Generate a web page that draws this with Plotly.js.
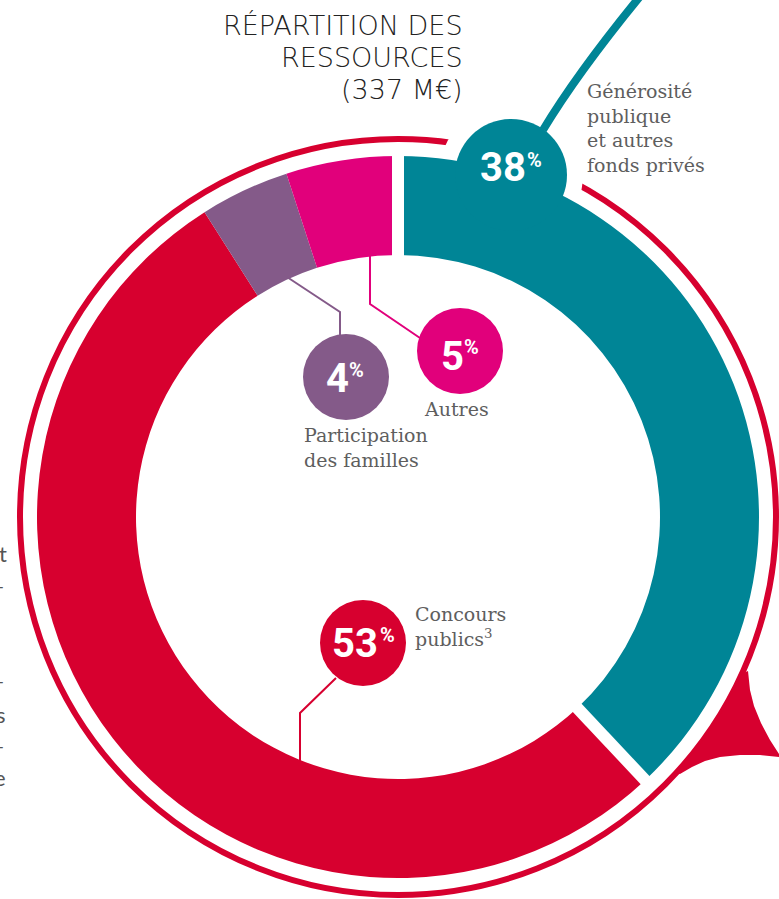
<!DOCTYPE html>
<html>
<head>
<meta charset="utf-8">
<script src="https://cdn.plot.ly/plotly-3.0.1.min.js"></script>
<style>html,body{margin:0;padding:0;background:#fff;}#chart{width:779px;height:899px;}</style>
</head>
<body>
<div id="chart"></div>
<script>
// ---- data ----
const categories = ["Générosité publique et autres fonds privés", "Concours publics", "Participation des familles", "Autres"];
const shares = [38, 53, 4, 5];
const pctLabels = ["38", "53", "4", "5"];
const sliceColors = ["#008596", "#d7002f", "#845a89", "#e1007b"];
const titleLines = ["RÉPARTITION DES", "RESSOURCES", "(337 M€)"];

// ---- geometry helpers (pixels -> paper) ----
const W = 779, H = 899;
const X = p => p / W;
const Y = p => 1 - p / H;
const CX = 398, CY = 517, R = 361, HOLE = 262 / 361, RING = 378;

function pathPx(pts, close) {
  return pts.map((p, i) => (i ? "L" : "M") + X(p[0]).toFixed(5) + "," + Y(p[1]).toFixed(5)).join(" ") + (close ? " Z" : "");
}
function circlePx(cx, cy, r, fill, layer, line) {
  return {type: "circle", xref: "paper", yref: "paper", x0: X(cx - r), x1: X(cx + r), y0: Y(cy + r), y1: Y(cy - r),
    fillcolor: fill, line: line || {width: 0}, layer: layer || "above"};
}
function polar(r, deg) {
  const a = deg * Math.PI / 180;
  return [CX + r * Math.sin(a), CY - r * Math.cos(a)];
}

const total = shares.reduce((a, b) => a + b, 0);
const tealEnd = 360 * shares[0] / total;

const shapes = [];
// outer thin ring
shapes.push(circlePx(CX, CY, RING, "rgba(0,0,0,0)", "below", {color: sliceColors[1], width: 6}));
// white mask around the 38% bubble
shapes.push(circlePx(511, 175, 72, "#ffffff", "below"));
// red speech-bubble tail at right
(function () {
  const outer = [[748, 671], [750, 690], [754, 706], [761, 723], [770, 740], [779, 754], [779, 757],
                 [760, 755], [740, 755], [720, 757], [705, 761], [692, 767], [680, 774]];
  const back = [];
  for (let d = 132.5; d >= 66; d -= 1.5) back.push(polar(RING, d));
  shapes.push({type: "path", xref: "paper", yref: "paper", layer: "below",
    path: pathPx(outer.concat(back.filter(p => p[1] <= 776 && p[1] >= 669)), true),
    fillcolor: sliceColors[1], line: {width: 0}});
})();

// white gaps around the teal slice
[0, tealEnd].forEach(a => {
  const p0 = polar(R * HOLE - 3, a), p1 = polar(R + 4, a);
  shapes.push({type: "line", xref: "paper", yref: "paper", x0: X(p0[0]), y0: Y(p0[1]), x1: X(p1[0]), y1: Y(p1[1]),
    line: {color: "#ffffff", width: 12}, layer: "above"});
});

// teal leader line from bubble to top
shapes.push({type: "path", xref: "paper", yref: "paper", layer: "above",
  path: "M" + X(543) + "," + Y(130) + " Q" + X(578) + "," + Y(72) + " " + X(642) + "," + Y(-6),
  line: {color: sliceColors[0], width: 8}});
// bubbles
shapes.push(circlePx(511, 175, 56, sliceColors[0]));
shapes.push(circlePx(460, 351, 43, sliceColors[3]));
shapes.push(circlePx(346, 377, 43, sliceColors[2]));
shapes.push(circlePx(363, 643, 43, sliceColors[1]));
// connectors
shapes.push({type: "path", xref: "paper", yref: "paper", layer: "above",
  path: pathPx([[287, 277], [340, 312], [340, 336]]), line: {color: sliceColors[2], width: 2}});
shapes.push({type: "path", xref: "paper", yref: "paper", layer: "above",
  path: pathPx([[370, 254], [370, 304], [420, 338]]), line: {color: sliceColors[3], width: 2}});
shapes.push({type: "path", xref: "paper", yref: "paper", layer: "above",
  path: pathPx([[336, 678], [300, 713], [300, 766]]), line: {color: sliceColors[1], width: 2}});

const numFont = {family: "Roboto, 'Open Sans', sans-serif", size: 40, color: "#ffffff", weight: 700};
const pctFont = {family: "Roboto, 'Open Sans', sans-serif", size: 20, color: "#ffffff", weight: 700};
const serif = {family: "'DejaVu Serif', serif", size: 19, color: "#5e5e5e"};
const titleFont = {family: "'DejaVu Sans', sans-serif", size: 27, color: "#222222", weight: 200};
function ann(x, y, text, font, xa, ya, align) {
  return {xref: "paper", yref: "paper", x: X(x), y: Y(y), text: text, font: font, showarrow: false,
    xanchor: xa || "center", yanchor: ya || "middle", align: align || "left", borderpad: 0};
}
const annotations = [
  ann(464, 25, titleLines[0], titleFont, "right", "middle", "right"),
  ann(464, 58, titleLines[1], titleFont, "right", "middle", "right"),
  ann(464, 89, titleLines[2], titleFont, "right", "middle", "right"),
  ann(503, 168, pctLabels[0], numFont), ann(526, 160, "%", pctFont, "left"),
  ann(355, 643, pctLabels[1], numFont), ann(379, 635, "%", pctFont, "left"),
  ann(337, 379, pctLabels[2], numFont), ann(348, 370, "%", pctFont, "left"),
  ann(452, 356, pctLabels[3], numFont), ann(463, 347, "%", pctFont, "left"),
  ann(586, 79, "Générosité<br>publique<br>et autres<br>fonds privés", serif, "left", "top"),
  ann(456, 397, "Autres", serif, "center", "top"),
  ann(303, 423, "Participation<br>des familles", serif, "left", "top"),
  ann(414, 602, "Concours<br>publics<sup>3</sup>", serif, "left", "top")
];
// cut-off text from neighbouring panel (left edge)
const edgeFont = {family: "Lato, sans-serif", size: 22, color: "#555555"};
[["t", 8, 553], ["–", 6, 585], ["–", 6, 680], ["s", 7, 714], ["–", 6, 745], ["e", 7, 777]].forEach(e => {
  annotations.push(ann(e[1], e[2], e[0], edgeFont, "right", "middle"));
});

const trace = {
  type: "pie",
  labels: categories,
  values: shares,
  sort: false,
  direction: "clockwise",
  rotation: 0,
  hole: HOLE,
  textinfo: "none",
  hoverinfo: "label+percent",
  marker: {colors: sliceColors, line: {width: 0}},
  domain: {x: [X(CX - R), X(CX + R)], y: [Y(CY + R), Y(CY - R)]},
  showlegend: false
};

Plotly.newPlot("chart", [trace], {
  width: W, height: H,
  margin: {l: 0, r: 0, t: 0, b: 0},
  paper_bgcolor: "#ffffff",
  showlegend: false,
  shapes: shapes,
  annotations: annotations
}, {displayModeBar: false, staticPlot: true});
</script>
</body>
</html>
